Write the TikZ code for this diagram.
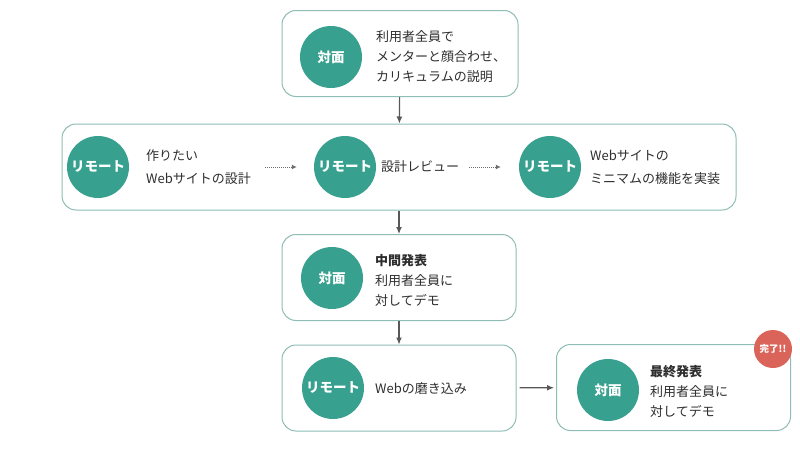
\documentclass[tikz,border=0pt]{standalone}
\usepackage{fontspec}
\setmainfont{Noto Sans CJK JP}
\usetikzlibrary{shapes,arrows,arrows.meta,positioning}
\definecolor{tealA}{HTML}{37A08E}
\definecolor{frameA}{HTML}{8FBCB4}
\definecolor{doneA}{HTML}{DB645A}
\definecolor{inkA}{HTML}{2E2E2E}
\tikzstyle{stage} = [rectangle, draw=frameA, line width=1pt, fill=white,
    rounded corners=14pt, minimum width=234pt, minimum height=86pt]
\tikzstyle{mode} = [circle, fill=tealA, text=white, inner sep=0pt,
    minimum size=62pt, font=\bfseries\fontsize{13.5}{15}\selectfont]
\tikzstyle{desc} = [anchor=west, align=left, inner sep=0pt, text=inkA,
    font=\fontsize{13}{20}\selectfont]
\tikzstyle{descwide} = [desc, font=\fontsize{13}{23}\selectfont]
\tikzstyle{line} = [draw=inkA!80, line width=1.2pt, -{Latex[length=7pt,width=6pt]}]
\tikzstyle{dotline} = [draw=inkA!70, line width=1pt, dash pattern=on 1pt off 1pt,
    -{Latex[length=5pt,width=5pt]}]

\begin{document}
\begin{tikzpicture}[x=1pt, y=-1pt]
 \useasboundingbox (0,0) rectangle (800,450);
 % first meeting
 \node at (400,53.5) [stage, minimum width=236pt, name=intro] {};
 \node at (331,57) [mode, name=introm] {対面};
 \node at (376,57) [desc, name=introt] {利用者全員で\\メンターと顔合わせ、\\カリキュラムの説明};
 % remote work
 \node at (399,167) [stage, minimum width=674pt, name=remote] {};
 \node at (98,167) [mode, name=planm] {リモート};
 \node at (146,167) [descwide, name=plant] {作りたい\\Webサイトの設計};
 \node at (345,167) [mode, name=reviewm] {リモート};
 \node at (381,167) [desc, name=reviewt] {設計レビュー};
 \node at (550,167) [mode, name=buildm] {リモート};
 \node at (590,167) [descwide, name=buildt] {Webサイトの\\ミニマムの機能を実装};
 % mid demo
 \node at (399,277.5) [stage, name=mid] {};
 \node at (332,278) [mode, name=midm] {対面};
 \node at (375,280) [desc, name=midt] {\textbf{中間発表}\\利用者全員に\\対してデモ};
 % polish
 \node at (399,388) [stage, name=polish] {};
 \node at (333,388) [mode, name=polishm] {リモート};
 \node at (375,389) [desc, name=polisht] {Webの磨き込み};
 % final demo
 \node at (673.5,387.5) [stage, name=final] {};
 \node at (608,390) [mode, name=finalm] {対面};
 \node at (650,391) [desc, name=finalt] {\textbf{最終発表}\\利用者全員に\\対してデモ};
 \node at (773,349) [circle, fill=doneA, text=white, inner sep=0pt, minimum size=38pt,
    font=\bfseries\fontsize{9.5}{10}\selectfont, name=done] {完了!!};

 \path [line] (intro) -- (remote);
 \path [line] (remote) -- (mid);
 \path [line] (mid) -- (polish);
 \path [line, shorten <=3pt, shorten >=2pt] (polish) -- (final);
 \path [dotline, shorten <=14pt, shorten >=17pt] (plant.east |- planm) -- (reviewm);
 \path [dotline, shorten <=10pt, shorten >=18pt] (reviewt) -- (buildm);
\end{tikzpicture}
\end{document}
